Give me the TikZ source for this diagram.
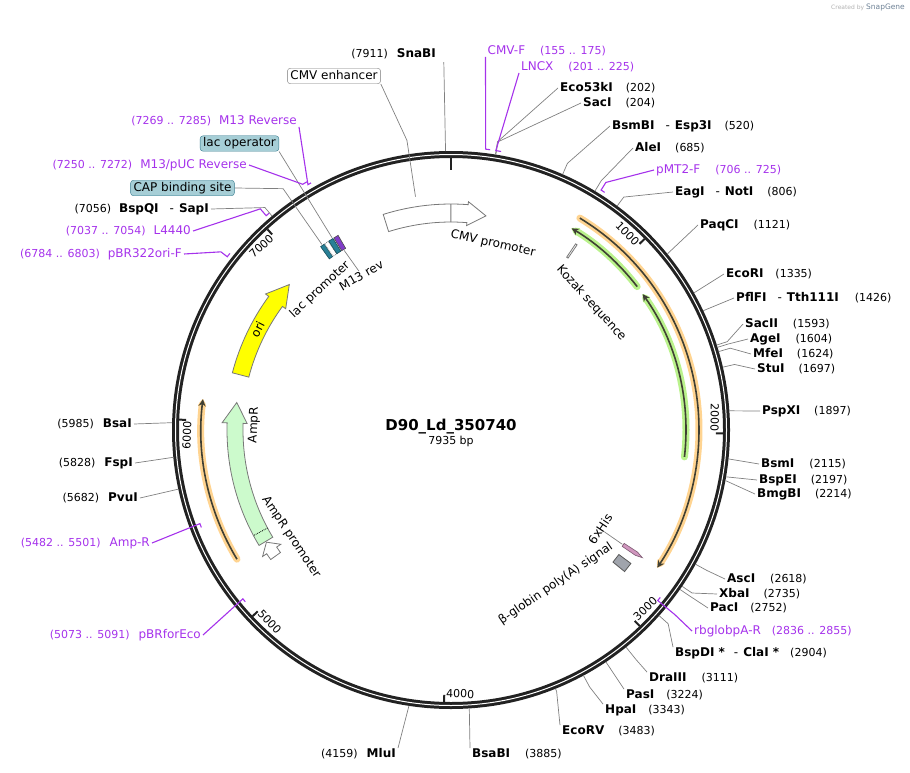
\documentclass[tikz,border=0pt]{standalone}
\usepackage{fontspec}
\setmainfont{DejaVu Sans}
\usepackage{xcolor}
\usetikzlibrary{arrows.meta,positioning,calc}

\definecolor{ringcol}{RGB}{34,34,34}
\definecolor{leadgray}{RGB}{128,128,128}
\definecolor{primer}{RGB}{165,50,235}
\definecolor{featgray}{RGB}{120,120,120}
\definecolor{oriyellow}{RGB}{255,255,0}
\definecolor{amprgreen}{RGB}{204,250,204}
\definecolor{haloorange}{RGB}{255,212,145}
\definecolor{halogreen}{RGB}{186,242,140}
\definecolor{orfdark}{RGB}{64,64,52}
\definecolor{lacteal}{RGB}{40,128,150}
\definecolor{lacfill}{RGB}{166,206,214}
\definecolor{lacedge}{RGB}{52,122,142}
\definecolor{mrevpurple}{RGB}{128,60,200}
\definecolor{hispink}{RGB}{208,150,190}
\definecolor{polyagray}{RGB}{160,164,172}
\definecolor{snapgray}{RGB}{110,130,150}

% bp -> angle (0 at top, clockwise, y axis points down)
\newcommand{\bp}[1]{(#1)*0.0453686-90}
\newcommand{\enzname}[1]{\textbf{#1}}
\newcommand{\enzpos}[1]{{\fontsize{11}{13}\selectfont #1}}
\newcommand{\dsh}{\hspace{11pt}-\hspace{5pt}}

\tikzset{
  enz/.style={inner xsep=2pt, inner ysep=0pt, text height=9pt, text depth=2.5pt, font=\fontsize{12}{14}\selectfont},
  prm/.style={enz, text=primer},
  lead/.style={draw=leadgray, line width=0.7pt},
  plead/.style={draw=primer, line width=1.1pt},
  featline/.style={draw=featgray, line width=0.8pt},
  flabel/.style={inner sep=0pt, font=\fontsize{12}{14}\selectfont},
  tlabel/.style={inner sep=0pt, font=\fontsize{11}{13}\selectfont},
  tickmark/.style={draw=ringcol, line width=2pt},
  fbox/.style={draw=featgray, fill=white, rounded corners=3pt, inner xsep=3pt, inner ysep=2pt, text height=9pt, text depth=2.5pt, font=\fontsize{12}{14}\selectfont},
  orfhalo/.style={line width=7pt, line cap=round, -{Stealth[length=10pt, width=11pt, line width=2pt, round]}},
  orfline/.style={draw=orfdark, line width=1.6pt, -{Stealth[length=7pt, width=7pt]}}
}

\begin{document}
\begin{tikzpicture}[x=1pt, y=-1pt]
\useasboundingbox (0,0) rectangle (910,773);

% title
\node[inner sep=0pt, text depth=0pt, font=\bfseries\fontsize{15}{17}\selectfont, anchor=base] (title) at (451,430.5) {D90\_Ld\_350740};
\node[inner sep=0pt, text height=8pt, font=\fontsize{11}{13}\selectfont] (bpsize) [below=6pt of title] {7935 bp};
\node[anchor=east, inner sep=0pt, text=gray!60, font=\fontsize{6}{7}\selectfont] (credit) at (905,7) {Created by \textcolor{snapgray}{\fontsize{7.5}{8}\selectfont SnapGene}};

% enzymes, right-hand side
\node[enz, anchor=west] (eco53ki) at (558,88) {\enzname{Eco53kI}\hspace{13pt}\enzpos{(202)}};
\node[enz, anchor=west] (saci) at (581,103) {\enzname{SacI}\hspace{14pt}\enzpos{(204)}};
\node[enz, anchor=west] (bsmbi) at (610,126) {\enzname{BsmBI}\dsh\enzname{Esp3I}\hspace{13pt}\enzpos{(520)}};
\node[enz, anchor=west] (alei) at (633,148) {\enzname{AleI}\hspace{14pt}\enzpos{(685)}};
\node[enz, anchor=west] (eagi) at (673,192) {\enzname{EagI}\dsh\enzname{NotI}\hspace{14pt}\enzpos{(806)}};
\node[enz, anchor=west] (paqci) at (698,225) {\enzname{PaqCI}\hspace{15pt}\enzpos{(1121)}};
\node[enz, anchor=west] (ecori) at (724,274) {\enzname{EcoRI}\hspace{12pt}\enzpos{(1335)}};
\node[enz, anchor=west] (pflfi) at (734,298) {\enzname{PflFI}\dsh\enzname{Tth111I}\hspace{16pt}\enzpos{(1426)}};
\node[enz, anchor=west] (sacii) at (743,324) {\enzname{SacII}\hspace{15pt}\enzpos{(1593)}};
\node[enz, anchor=west] (agei) at (748,339) {\enzname{AgeI}\hspace{15pt}\enzpos{(1604)}};
\node[enz, anchor=west] (mfei) at (751,354) {\enzname{MfeI}\hspace{14pt}\enzpos{(1624)}};
\node[enz, anchor=west] (stui) at (755,369) {\enzname{StuI}\hspace{14pt}\enzpos{(1697)}};
\node[enz, anchor=west] (pspxi) at (760,411) {\enzname{PspXI}\hspace{14pt}\enzpos{(1897)}};
\node[enz, anchor=west] (bsmi) at (759,464) {\enzname{BsmI}\hspace{15pt}\enzpos{(2115)}};
\node[enz, anchor=west] (bspei) at (757,480) {\enzname{BspEI}\hspace{14pt}\enzpos{(2197)}};
\node[enz, anchor=west] (bmgbi) at (755,494) {\enzname{BmgBI}\hspace{14pt}\enzpos{(2214)}};
\node[enz, anchor=west] (asci) at (725,579) {\enzname{AscI}\hspace{15pt}\enzpos{(2618)}};
\node[enz, anchor=west] (xbai) at (717,594) {\enzname{XbaI}\hspace{14pt}\enzpos{(2735)}};
\node[enz, anchor=west] (paci) at (708,608) {\enzname{PacI}\hspace{12pt}\enzpos{(2752)}};
\node[enz, anchor=west] (bspdi) at (673,653) {\enzname{BspDI *}\hspace{9pt}-\hspace{5pt}\enzname{ClaI *}\hspace{11pt}\enzpos{(2904)}};
\node[enz, anchor=west] (draiii) at (647,678) {\enzname{DraIII}\hspace{15pt}\enzpos{(3111)}};
\node[enz, anchor=west] (pasi) at (624,695) {\enzname{PasI}\hspace{12pt}\enzpos{(3224)}};
\node[enz, anchor=west] (hpai) at (603,710) {\enzname{HpaI}\hspace{12pt}\enzpos{(3343)}};
\node[enz, anchor=west] (ecorv) at (560,731) {\enzname{EcoRV}\hspace{14pt}\enzpos{(3483)}};
\node[enz, anchor=west] (bsabi) at (470,754) {\enzname{BsaBI}\hspace{15pt}\enzpos{(3885)}};

% enzymes, left-hand side
\node[enz, anchor=east] (snabi) at (438,54) {\enzpos{(7911)}\hspace{9pt}\enzname{SnaBI}};
\node[enz, anchor=east] (mlui) at (398,754) {\enzpos{(4159)}\hspace{9pt}\enzname{MluI}};
\node[enz, anchor=east] (bsai) at (134,424) {\enzpos{(5985)}\hspace{9pt}\enzname{BsaI}};
\node[enz, anchor=east] (fspi) at (135,463) {\enzpos{(5828)}\hspace{9pt}\enzname{FspI}};
\node[enz, anchor=east] (pvui) at (140,498) {\enzpos{(5682)}\hspace{9pt}\enzname{PvuI}};
\node[enz, anchor=east] (bspqi) at (211,209) {\enzpos{(7056)}\hspace{8pt}\enzname{BspQI}\dsh\enzname{SapI}};

% primers
\node[prm, anchor=west] (cmvf) at (485.5,51) {CMV-F\hspace{15pt}\enzpos{(155 .. 175)}};
\node[prm, anchor=west] (lncx) at (519,67) {LNCX\hspace{15pt}\enzpos{(201 .. 225)}};
\node[prm, anchor=west] (pmtf) at (654,170) {pMT2-F\hspace{15pt}\enzpos{(706 .. 725)}};
\node[prm, anchor=west] (rbglob) at (692,631) {rbglobpA-R\hspace{11pt}\enzpos{(2836 .. 2855)}};
\node[prm, anchor=east] (amprev) at (152,543) {\enzpos{(5482 .. 5501)}\hspace{9pt}Amp-R};
\node[prm, anchor=east] (pbrfor) at (203,635) {\enzpos{(5073 .. 5091)}\hspace{9pt}pBRforEco};
\node[prm, anchor=east] (pbrori) at (184,254) {\enzpos{(6784 .. 6803)}\hspace{8pt}pBR322ori-F};
\node[prm, anchor=east] (lfour) at (193,231) {\enzpos{(7037 .. 7054)}\hspace{8pt}L4440};
\node[prm, anchor=east] (mpuc) at (249,165) {\enzpos{(7250 .. 7272)}\hspace{8pt}M13/pUC Reverse};
\node[prm, anchor=east] (mrev) at (299,121) {\enzpos{(7269 .. 7285)}\hspace{8pt}M13 Reverse};

% boxed feature labels
\node[fbox] (cmvenh) at (334,76) {CMV enhancer};
\node[fbox, fill=lacfill, draw=lacedge] (lacop) at (239.5,143.5) {lac operator};
\node[fbox, fill=lacfill, draw=lacedge] (capbs) at (182.5,188) {CAP binding site};

\begin{scope}[shift={(451,430)}]
  % backbone
  \draw[line width=7pt, ringcol] (0,0) circle[radius=275.5];
  \draw[line width=1pt, white] (0,0) circle[radius=275.5];

  % ticks
  \draw[tickmark] ({\bp{0}}:272) -- ({\bp{0}}:260);
  \draw[tickmark] ({\bp{1000}}:272) -- ({\bp{1000}}:265);
  \draw[tickmark] ({\bp{2000}}:272) -- ({\bp{2000}}:265);
  \draw[tickmark] ({\bp{3000}}:272) -- ({\bp{3000}}:265);
  \draw[tickmark] ({\bp{4000}}:272) -- ({\bp{4000}}:265);
  \draw[tickmark] ({\bp{5000}}:272) -- ({\bp{5000}}:265);
  \draw[tickmark] ({\bp{6000}}:272) -- ({\bp{6000}}:265);
  \draw[tickmark] ({\bp{7000}}:272) -- ({\bp{7000}}:265);
  \node[tlabel, anchor=north east, rotate=-45.4] (t1000) at ({\bp{992}}:268) {1000};
  \node[tlabel, anchor=north east, rotate=-90.7] (t2000) at ({\bp{1992}}:268) {2000};
  \node[tlabel, anchor=south west, rotate=43.9] (t3000) at ({\bp{2992}}:268) {3000};
  \node[tlabel, anchor=south west, rotate=-1.5] (t4000) at ({\bp{3992}}:268) {4000};
  \node[tlabel, anchor=south west, rotate=-46.8] (t5000) at ({\bp{4992}}:268) {5000};
  \node[tlabel, anchor=north east, rotate=87.8] (t6000) at ({\bp{5992}}:268) {6000};
  \node[tlabel, anchor=north east, rotate=42.4] (t7000) at ({\bp{6992}}:268) {7000};

  % CMV promoter
  \draw[featline, fill=white] ({\bp{7551}}:208) arc[start angle={\bp{7551}}, end angle={\bp{8032}}, radius=208]
    -- ({\bp{8032}}:205) -- ({\bp{8140}}:217) -- ({\bp{8032}}:229) -- ({\bp{8032}}:226)
    arc[start angle={\bp{8032}}, end angle={\bp{7551}}, radius=226] -- cycle;
  \draw[featline] ({\bp{7935}}:208) -- ({\bp{7935}}:226); % origin
  \node[flabel, rotate=-12.7] (cmvlbl) at ({\bp{280}}:191) {CMV promoter};

  % Kozak sequence
  \draw[featline, fill=white] ({\bp{745}}:208) -- ({\bp{745}}:224) -- ({\bp{755}}:224) -- ({\bp{755}}:208) -- cycle;
  \node[flabel, rotate=-47.9] (kozlbl) at ({\bp{1056}}:189) {Kozak sequence};

  % ORFs
  \draw[orfhalo, draw=halogreen] ({\bp{1155}}:235) arc[start angle={\bp{1155}}, end angle={\bp{681}}, radius=235];
  \draw[orfline] ({\bp{1155}}:235) arc[start angle={\bp{1155}}, end angle={\bp{681}}, radius=235];
  \draw[orfhalo, draw=halogreen] ({\bp{2129}}:235) arc[start angle={\bp{2129}}, end angle={\bp{1205}}, radius=235];
  \draw[orfline] ({\bp{2129}}:235) arc[start angle={\bp{2129}}, end angle={\bp{1205}}, radius=235];
  \draw[orfhalo, draw=haloorange] ({\bp{690}}:248) arc[start angle={\bp{690}}, end angle={\bp{2727}}, radius=248];
  \draw[orfline] ({\bp{690}}:248) arc[start angle={\bp{690}}, end angle={\bp{2727}}, radius=248];
  \draw[orfhalo, draw=haloorange] ({\bp{5266}}:250) arc[start angle={\bp{5266}}, end angle={\bp{6108}}, radius=250];
  \draw[orfline] ({\bp{5266}}:250) arc[start angle={\bp{5266}}, end angle={\bp{6108}}, radius=250];

  % 6xHis and poly(A) signal
  \draw[draw=hispink!60!black, line width=0.6pt, fill=hispink] ({\bp{2716}}:207) -- ({\bp{2738}}:207) -- ({\bp{2738}}:223) -- ({\bp{2727}}:230) -- ({\bp{2716}}:223) -- cycle;
  \draw[draw=black!65, line width=0.8pt, fill=polyagray] ({\bp{2790}}:209) -- ({\bp{2790}}:224) -- ({\bp{2848}}:224) -- ({\bp{2848}}:209) -- cycle;
  \node[flabel, rotate=56.4] (hislbl) at ({\bp{2724}}:179) {6xHis};
  \draw[lead] (hislbl.south) -- ({\bp{2727}}:206);
  \node[flabel, rotate=34.3] (polyalbl) at ({\bp{3212}}:186) {β-globin poly(A) signal};

  % AmpR promoter and AmpR
  \draw[featline, fill=white] ({\bp{5165}}:210) arc[start angle={\bp{5165}}, end angle={\bp{5205}}, radius=210]
    -- ({\bp{5205}}:205) -- ({\bp{5262}}:216) -- ({\bp{5205}}:227) -- ({\bp{5205}}:222)
    arc[start angle={\bp{5205}}, end angle={\bp{5165}}, radius=222] -- cycle;
  \draw[featline, fill=amprgreen] ({\bp{5268}}:208) arc[start angle={\bp{5268}}, end angle={\bp{5992}}, radius=208]
    -- ({\bp{5992}}:204) -- ({\bp{6113}}:216) -- ({\bp{5992}}:229) -- ({\bp{5992}}:224)
    arc[start angle={\bp{5992}}, end angle={\bp{5268}}, radius=224] -- cycle;
  \draw[densely dotted, line width=0.8pt] ({\bp{5332}}:208) -- ({\bp{5332}}:224);
  \node[flabel, rotate=87.5] (amprlbl) at ({\bp{5984}}:197) {AmpR};
  \node[flabel, rotate=-56.2] (amprplbl) at ({\bp{5206}}:192.5) {AmpR promoter};

  % ori
  \draw[featline, fill=oriyellow] ({\bp{6275}}:209) arc[start angle={\bp{6275}}, end angle={\bp{6751}}, radius=209]
    -- ({\bp{6751}}:205) -- ({\bp{6877}}:217.5) -- ({\bp{6751}}:230) -- ({\bp{6751}}:226)
    arc[start angle={\bp{6751}}, end angle={\bp{6275}}, radius=226] -- cycle;
  \node[flabel, rotate=62.5] (orilbl) at ({\bp{6557}}:218) {ori};

  % lac region
  \draw[draw=lacteal!60!black, line width=0.6pt, fill=lacteal] ({\bp{7155}}:210) -- ({\bp{7155}}:225) -- ({\bp{7180}}:225) -- ({\bp{7180}}:210) -- cycle;
  \draw[draw=featgray, densely dotted, line width=0.7pt, fill=white] ({\bp{7182}}:210) -- ({\bp{7182}}:225) -- ({\bp{7208}}:225) -- ({\bp{7208}}:210) -- cycle;
  \draw[draw=lacteal!60!black, line width=0.6pt, fill=lacteal] ({\bp{7210}}:210) -- ({\bp{7210}}:225) -- ({\bp{7238}}:225) -- ({\bp{7238}}:210) -- cycle;
  \draw[draw=black!70, line width=0.6pt, fill=mrevpurple] ({\bp{7244}}:210) -- ({\bp{7244}}:225) -- ({\bp{7272}}:225) -- ({\bp{7272}}:210) -- cycle;
  \node[flabel, rotate=43] (laclbl) at ({\bp{6987}}:192) {lac promoter};
  \node[flabel, rotate=30.1] (mrevlbl) at ({\bp{7272}}:179) {M13 rev};
  \draw[lead] ({\bp{7258}}:209) -- (mrevlbl.north);
  \draw[lead] (lacop.south east) -- ({\bp{7236}}:226);
  \draw[lead] (capbs.east) -- ({\bp{7168}}:294) -- ({\bp{7168}}:226);
  \draw[lead] (cmvenh.south east) -- ({\bp{7745}}:293) -- ({\bp{7745}}:236);

  % enzyme leaders
  \draw[lead] ({\bp{7911}}:279) -- ({\bp{7911}}:368); % SnaBI
  \draw[lead] ({\bp{202}}:279) -- ({\bp{202}}:292) -- (eco53ki.west);
  \draw[lead] ({\bp{204}}:279) -- ({\bp{204}}:292) -- (saci.west);
  \draw[lead] ({\bp{520}}:279) -- ({\bp{520}}:291) -- (bsmbi.west);
  \draw[lead] ({\bp{685}}:279) -- ({\bp{685}}:291) -- (alei.west);
  \draw[lead] ({\bp{806}}:279) -- ({\bp{806}}:290) -- (eagi.west);
  \draw[lead] ({\bp{1121}}:279) -- (paqci.west);
  \draw[lead] ({\bp{1335}}:279) -- (ecori.west);
  \draw[lead] ({\bp{1426}}:279) -- (pflfi.west);
  \draw[lead] ({\bp{1593}}:279) -- ({\bp{1593}}:290) -- (sacii.west);
  \draw[lead] ({\bp{1604}}:279) -- ({\bp{1604}}:290) -- (agei.west);
  \draw[lead] ({\bp{1624}}:279) -- ({\bp{1624}}:291) -- (mfei.west);
  \draw[lead] ({\bp{1697}}:279) -- ({\bp{1697}}:291) -- (stui.west);
  \draw[lead] ({\bp{1897}}:279) -- (pspxi.west);
  \draw[lead] ({\bp{2115}}:279) -- (bsmi.west);
  \draw[lead] ({\bp{2197}}:279) -- (bspei.west);
  \draw[lead] ({\bp{2214}}:279) -- (bmgbi.west);
  \draw[lead] ({\bp{2618}}:279) -- ({\bp{2618}}:292) -- (asci.west);
  \draw[lead] ({\bp{2735}}:279) -- ({\bp{2735}}:291) -- (xbai.west);
  \draw[lead] ({\bp{2752}}:279) -- ({\bp{2752}}:286) -- (paci.west);
  \draw[lead] ({\bp{2904}}:279) -- ({\bp{2904}}:291) -- (bspdi.north west);
  \draw[lead] ({\bp{3111}}:279) -- ({\bp{3111}}:295) -- (draiii.north west);
  \draw[lead] ({\bp{3224}}:279) -- ({\bp{3224}}:286) -- (pasi.north west);
  \draw[lead] ({\bp{3343}}:279) -- ({\bp{3343}}:292) -- (hpai.north west);
  \draw[lead] ({\bp{3483}}:279) -- ({\bp{3483}}:282) -- (ecorv.north west);
  \draw[lead] ({\bp{3885}}:279) -- (bsabi.north west);
  \draw[lead] ({\bp{4159}}:279) -- (mlui.north east);
  \draw[lead] ({\bp{5682}}:279) -- (pvui.east);
  \draw[lead] ({\bp{5828}}:279) -- (fspi.east);
  \draw[lead] ({\bp{5985}}:279) -- (bsai.east);
  \draw[lead] ({\bp{7056}}:279) -- ({\bp{7056}}:290) -- (bspqi.east);

  % primer leaders and bars
  \draw[plead] (cmvf.south west) -- ({\bp{155}}:283) arc[start angle={\bp{155}}, end angle={\bp{175}}, radius=283];
  \draw[plead] (lncx.south west) -- ({\bp{201}}:283) arc[start angle={\bp{201}}, end angle={\bp{225}}, radius=283];
  \draw[plead] (pmtf.west) -- ({\bp{706}}:292) -- ({\bp{706}}:283) arc[start angle={\bp{706}}, end angle={\bp{725}}, radius=283];
  \draw[plead] (rbglob.west) -- ({\bp{2855}}:290) -- ({\bp{2855}}:268) arc[start angle={\bp{2855}}, end angle={\bp{2836}}, radius=268];
  \draw[plead] (amprev.east) -- ({\bp{5501}}:268) arc[start angle={\bp{5501}}, end angle={\bp{5482}}, radius=268];
  \draw[plead] (pbrfor.east) -- ({\bp{5091}}:268) arc[start angle={\bp{5091}}, end angle={\bp{5073}}, radius=268];
  \draw[plead] (pbrori.east) -- ({\bp{6784}}:291) -- ({\bp{6784}}:283) arc[start angle={\bp{6784}}, end angle={\bp{6803}}, radius=283];
  \draw[plead] (lfour.east) -- ({\bp{7037}}:292) -- ({\bp{7037}}:283) arc[start angle={\bp{7037}}, end angle={\bp{7054}}, radius=283];
  \draw[plead] (mpuc.east) -- ({\bp{7250}}:287) arc[start angle={\bp{7250}}, end angle={\bp{7272}}, radius=287];
  \draw[plead] (mrev.south east) -- ({\bp{7269}}:284) arc[start angle={\bp{7269}}, end angle={\bp{7285}}, radius=284];
\end{scope}
\end{tikzpicture}
\end{document}
